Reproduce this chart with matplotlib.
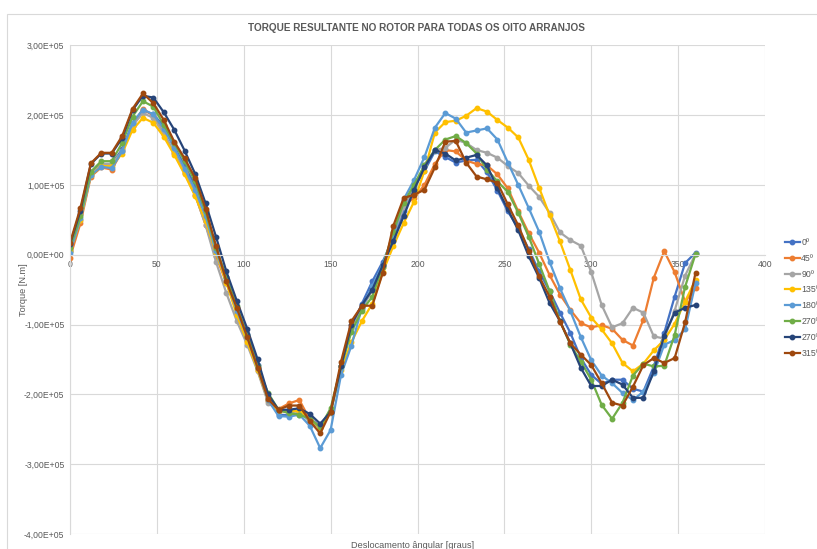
import numpy as np
import matplotlib.pyplot as plt
from matplotlib.patches import Rectangle
from matplotlib.ticker import FuncFormatter

# deslocamento angular [graus]
angulos = np.arange(0, 361, 6)

# torque [kN.m]
t0 = [5, 58, 118, 130, 130, 151, 189, 207, 201, 184, 155, 127, 99, 57, 7,
      -32, -78, -113, -158, -205, -229, -230, -227, -234, -246, -225, -160, -105, -70, -38,
      -10, 24, 62, 97, 120, 148, 140, 132, 135, 136, 118, 92, 62, 38, 8,
      -24, -52, -83, -112, -148, -172, -185, -179, -179, -192, -196, -160, -112, -60, -12, 3]
t45 = [-4, 45, 112, 125, 122, 148, 185, 209, 199, 173, 146, 117, 86, 43, -2,
       -40, -82, -122, -165, -210, -221, -213, -208, -236, -246, -224, -160, -100, -75, -50,
       -18, 31, 71, 81, 100, 130, 150, 148, 135, 130, 128, 115, 95, 62, 31,
       3, -29, -57, -79, -98, -104, -101, -106, -122, -130, -93, -33, 5, -25, -67, -48]
t90 = [6, 50, 114, 130, 130, 148, 185, 203, 196, 173, 146, 117, 86, 43, -10,
       -55, -95, -129, -167, -212, -224, -226, -224, -240, -248, -226, -160, -105, -78, -50,
       -15, 28, 68, 93, 129, 150, 153, 165, 160, 150, 146, 139, 127, 117, 99,
       83, 60, 32, 21, 13, -25, -72, -104, -98, -76, -83, -117, -120, -80, -30, 1]
t135 = [6, 50, 114, 127, 127, 145, 179, 196, 189, 169, 143, 115, 84, 48, 3,
        -40, -86, -125, -165, -208, -224, -224, -224, -235, -248, -225, -165, -125, -95, -70,
        -25, 12, 45, 76, 120, 175, 190, 192, 199, 210, 205, 193, 182, 168, 136,
        96, 57, 19, -22, -64, -90, -107, -127, -155, -167, -156, -137, -122, -99, -67, -36]
t180 = [3, 52, 114, 126, 124, 148, 189, 208, 201, 180, 153, 123, 93, 55, 5,
        -35, -80, -118, -162, -208, -231, -232, -229, -245, -277, -251, -172, -130, -76, -45,
        -14, 26, 79, 107, 140, 182, 203, 195, 175, 178, 181, 165, 132, 100, 67,
        33, -10, -48, -81, -118, -151, -173, -184, -198, -208, -196, -170, -129, -122, -107, -41]
t270a = [10, 55, 119, 134, 134, 160, 198, 220, 212, 186, 160, 134, 105, 62, 10,
         -32, -74, -115, -160, -198, -222, -227, -229, -235, -247, -220, -160, -110, -80, -60,
         -17, 33, 74, 100, 128, 150, 165, 170, 160, 145, 122, 105, 90, 60, 26,
         -13, -52, -95, -129, -153, -179, -215, -235, -212, -173, -156, -160, -159, -115, -46, 1]
t270b = [15, 63, 130, 145, 145, 167, 207, 228, 225, 204, 179, 149, 116, 74, 26,
         -24, -66, -106, -150, -200, -222, -222, -220, -228, -242, -225, -160, -100, -72, -50,
         -15, 19, 55, 93, 125, 150, 145, 135, 139, 143, 128, 95, 65, 35, -2,
         -33, -69, -95, -127, -162, -188, -188, -179, -186, -205, -205, -167, -116, -83, -76, -72]
t315 = [17, 67, 131, 146, 146, 170, 209, 231, 217, 193, 162, 138, 110, 66, 13,
        -38, -76, -118, -162, -207, -222, -216, -216, -238, -256, -225, -153, -95, -73, -73,
        -26, 41, 81, 86, 93, 125, 162, 163, 132, 112, 108, 103, 72, 42, 6,
        -31, -60, -96, -127, -143, -158, -184, -212, -216, -189, -158, -148, -155, -148, -97, -26]

series = [t0, t45, t90, t135, t180, t270a, t270b, t315]
nomes = ['0º', '45º', '90º', '135º', '180º', '270º', '270º', '315º']
cores = ['#4472C4', '#ED7D31', '#A5A5A5', '#FFC000', '#5B9BD5', '#70AD47', '#264478', '#9E480E']

plt.rcParams['font.family'] = ['Liberation Sans', 'DejaVu Sans']
cinza = '#595959'

fig = plt.figure(figsize=(8.17, 5.49), dpi=100)
ax = fig.add_axes([70 / 817, 1 - 534 / 549, (765 - 70) / 817, (534 - 45.3) / 549])

for s, nome, cor in zip(series, nomes, cores):
    ax.plot(angulos, np.array(s) * 1e3, color=cor, lw=1.6, marker='o', ms=3.2, label=nome)

ax.set_xlim(0, 400)
ax.set_ylim(-4e5, 3e5)
ax.set_xticks(np.arange(0, 401, 50))
ax.set_yticks(np.arange(-4e5, 3.01e5, 1e5))
ax.yaxis.set_major_formatter(FuncFormatter(lambda v, p: '{:.2E}'.format(v).replace('.', ',')))
ax.grid(True, color='#D9D9D9', lw=0.8)
ax.set_axisbelow(True)
for nome_sp in ['top', 'right']:
    ax.spines[nome_sp].set_visible(False)
ax.spines['left'].set_color('#D9D9D9')
ax.spines['bottom'].set_color('#D9D9D9')
ax.spines['bottom'].set_position(('data', 0))
ax.tick_params(length=0, labelsize=6.2, labelcolor=cinza, pad=4)

fig.text(417 / 817, 1 - 28 / 549, 'TORQUE RESULTANTE NO ROTOR PARA TODAS OS OITO ARRANJOS',
         ha='center', va='center', fontsize=7.2, fontweight='bold', color=cinza)
fig.text(413 / 817, 1 - 545 / 549, 'Deslocamento ângular [graus]',
         ha='center', va='center', fontsize=6.6, color=cinza)
fig.text(24 / 817, 1 - 290 / 549, 'Torque [N.m]', ha='center', va='center',
         rotation=90, fontsize=6.6, color=cinza)

ax.legend(loc='upper left', bbox_to_anchor=(785 / 817, 1 - 238 / 549),
          bbox_transform=fig.transFigure, frameon=False, fontsize=6.3,
          labelcolor=cinza, handlelength=1.7, handletextpad=0.15,
          labelspacing=0.78, borderaxespad=0, borderpad=0)

fig.add_artist(Rectangle((7 / 817, -0.1), 1.2, 1.1 - 14 / 549, transform=fig.transFigure,
                         fill=False, edgecolor='#D9D9D9', lw=0.8))

fig.savefig('out.png', dpi=100)
